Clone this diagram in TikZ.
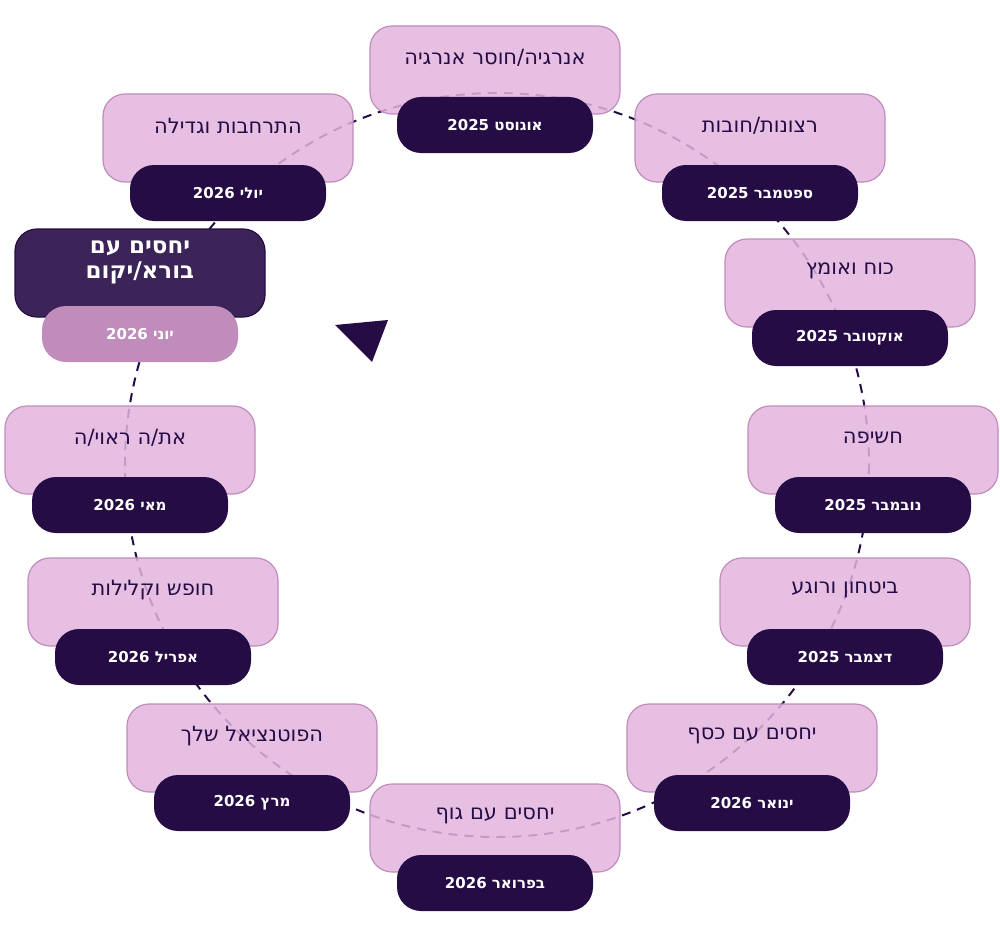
\documentclass[tikz,border=0pt]{standalone}
\usepackage{fontspec}
\setmainfont{DejaVu Sans}
\TeXXeTstate=1
\definecolor{lt}{HTML}{E2B4DE}
\definecolor{ltb}{HTML}{C08CBC}
\definecolor{dk}{HTML}{250C45}
\definecolor{jun}{HTML}{3D2458}
\newcommand{\RL}[1]{\beginR #1\endR}
\begin{document}
\begin{tikzpicture}[x=1pt,y=-1pt,
  box/.style={draw=ltb,line width=1.2pt,fill=lt,fill opacity=0.85,text opacity=1,rounded corners=22pt,minimum width=250pt,minimum height=88pt,text=dk,font=\fontsize{21}{24}\selectfont,anchor=center},
  pill/.style={fill=dk,rounded corners=24pt,minimum width=196pt,minimum height=56pt,text=white,font=\bfseries\fontsize{15}{18}\selectfont}]
\useasboundingbox (0,0) rectangle (1000,931);
\draw[dk,line width=2pt,dash pattern=on 9pt off 7pt] (497,465) circle (372);
\def\item#1#2#3#4#5{%
  \node[box] (b#1) at (#2,#3) {};
  \node[text=dk,font=\fontsize{21}{24}\selectfont] (t#1) at (#2,#3-12) {\RL{#4}};
  \node[pill] (p#1) at (#2,#3+55) {\RL{#5}};}
\item{a}{495}{70}{אנרגיה/חוסר אנרגיה}{אוגוסט 2025}
\item{b}{760}{138}{רצונות/חובות}{ספטמבר 2025}
\item{c}{850}{283}{כוח ואומץ}{אוקטובר 2025}
\item{d}{873}{450}{חשיפה}{נובמבר 2025}
\item{e}{845}{602}{ביטחון ורוגע}{דצמבר 2025}
\item{f}{752}{748}{יחסים עם כסף}{ינואר 2026}
\item{g}{495}{828}{יחסים עם גוף}{בפרואר 2026}
\item{h}{252}{748}{הפוטנציאל שלך}{מרץ 2026}
\item{i}{153}{602}{חופש וקלילות}{אפריל 2026}
\item{j}{130}{450}{את/ה ראוי/ה}{מאי 2026}
\item{l}{228}{138}{התרחבות וגדילה}{יולי 2026}
\node[draw=dk,line width=1.2pt,fill=jun,rounded corners=22pt,minimum width=250pt,minimum height=88pt] (bk) at (140,273) {};
\node[text=white,font=\bfseries\fontsize{23}{25}\selectfont,align=center] (tk) at (140,262) {\RL{יחסים עם}\\\RL{בורא/יקום}};
\node[pill,fill=ltb] (pk) at (140,334) {\RL{יוני 2026}};
\fill[dk] (335,325) -- (388,320) -- (372,362) -- cycle;
\end{tikzpicture}
\end{document}
